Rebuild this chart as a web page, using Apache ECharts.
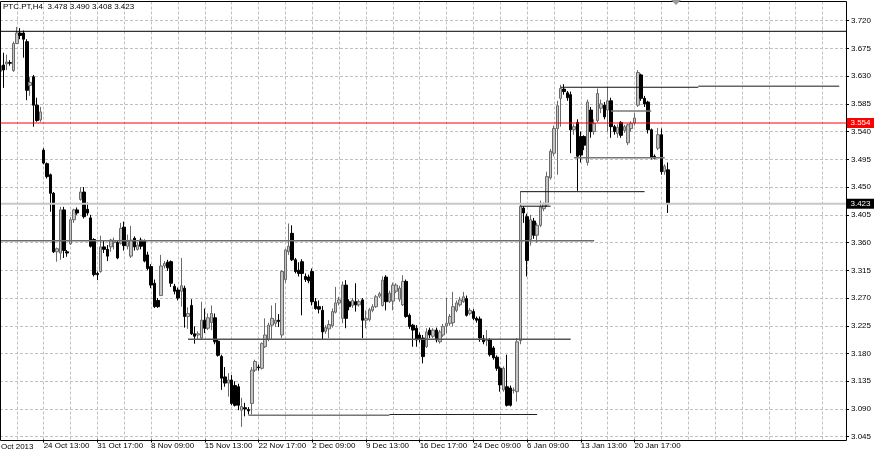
<!DOCTYPE html>
<html><head><meta charset="utf-8">
<script src="https://cdn.jsdelivr.net/npm/echarts@6/dist/echarts.min.js"></script>
<style>html,body{margin:0;padding:0;background:#fff;}#c{width:880px;height:450px;}</style>
</head><body><div id="c"></div>
<script>
// ---------- DATA ----------
const symbolName = 'PTC.PT,H4';
const opens = [
3.638,3.648,3.650,3.652,3.639,3.683,3.700,3.700,3.686,3.615,
3.629,3.583,3.559,3.510,3.488,3.470,3.440,3.345,3.343,3.413,
3.345,3.358,3.397,3.413,3.430,3.442,3.414,3.400,3.365,3.310,
3.313,3.353,3.349,3.353,3.360,3.360,3.359,3.385,3.354,3.338,
3.367,3.349,3.364,3.362,3.340,3.321,3.294,3.266,3.274,3.322,
3.328,3.329,3.289,3.283,3.281,3.286,3.240,3.258,3.212,3.210,
3.205,3.234,3.221,3.230,3.238,3.200,3.175,3.142,3.132,3.137,
3.128,3.126,3.088,3.092,3.089,3.099,3.153,3.158,3.156,3.191,
3.203,3.226,3.229,3.234,3.210,3.300,3.345,3.375,3.332,3.315,
3.329,3.305,3.304,3.313,3.264,3.256,3.250,3.216,3.220,3.225,
3.247,3.262,3.237,3.291,3.264,3.258,3.264,3.259,3.267,3.234,
3.235,3.250,3.256,3.273,3.258,3.304,3.264,3.265,3.281,3.268,
3.259,3.297,3.242,3.226,3.221,3.210,3.205,3.191,3.218,3.208,
3.218,3.199,3.210,3.225,3.229,3.230,3.250,3.259,3.264,3.269,
3.245,3.248,3.237,3.236,3.204,3.201,3.202,3.189,3.174,3.156,
3.121,3.126,3.124,3.120,3.118,3.201,3.416,3.402,3.365,3.395,
3.372,3.388,3.415,3.421,3.465,3.505,3.545,3.594,3.609,3.603,
3.600,3.543,3.555,3.532,3.532,3.490,3.575,3.540,3.558,3.578,
3.583,3.575,3.590,3.548,3.537,3.555,3.542,3.522,3.545,3.554,
3.583,3.632,3.594,3.588,3.543,3.500,3.513,3.535,3.475,3.478];
const highs = [
3.653,3.668,3.665,3.656,3.686,3.710,3.708,3.704,3.690,3.629,
3.632,3.595,3.580,3.513,3.490,3.472,3.442,3.352,3.418,3.418,
3.348,3.401,3.415,3.417,3.450,3.450,3.425,3.405,3.367,3.313,
3.371,3.363,3.356,3.366,3.368,3.363,3.392,3.394,3.373,3.387,
3.370,3.361,3.368,3.365,3.345,3.325,3.300,3.270,3.340,3.330,
3.332,3.331,3.293,3.287,3.335,3.290,3.255,3.268,3.224,3.216,
3.264,3.253,3.245,3.258,3.245,3.203,3.178,3.158,3.148,3.145,
3.135,3.131,3.108,3.100,3.093,3.158,3.170,3.162,3.198,3.237,
3.230,3.258,3.262,3.244,3.315,3.350,3.391,3.388,3.335,3.328,
3.333,3.310,3.308,3.318,3.270,3.266,3.257,3.226,3.234,3.253,
3.288,3.272,3.297,3.299,3.268,3.270,3.294,3.268,3.270,3.250,
3.254,3.260,3.275,3.280,3.305,3.307,3.282,3.295,3.294,3.290,
3.307,3.300,3.245,3.228,3.226,3.214,3.210,3.221,3.222,3.221,
3.222,3.218,3.228,3.270,3.244,3.280,3.266,3.272,3.280,3.274,
3.254,3.252,3.240,3.240,3.210,3.218,3.205,3.192,3.177,3.159,
3.159,3.178,3.128,3.125,3.205,3.443,3.419,3.407,3.405,3.400,
3.392,3.428,3.425,3.475,3.512,3.550,3.590,3.616,3.617,3.606,
3.605,3.552,3.560,3.540,3.534,3.592,3.580,3.560,3.610,3.592,
3.588,3.613,3.595,3.551,3.552,3.557,3.551,3.553,3.557,3.570,
3.640,3.634,3.598,3.590,3.545,3.503,3.546,3.545,3.487,3.490];
const lows = [
3.632,3.611,3.640,3.647,3.637,3.682,3.690,3.660,3.591,3.598,
3.548,3.556,3.556,3.487,3.464,3.410,3.343,3.329,3.332,3.335,
3.337,3.356,3.392,3.405,3.428,3.399,3.404,3.352,3.305,3.299,
3.311,3.343,3.330,3.345,3.349,3.333,3.357,3.347,3.349,3.335,
3.347,3.347,3.349,3.328,3.315,3.286,3.254,3.254,3.274,3.318,
3.314,3.288,3.276,3.266,3.256,3.222,3.220,3.210,3.196,3.204,
3.203,3.213,3.218,3.218,3.195,3.175,3.121,3.126,3.110,3.096,
3.094,3.088,3.061,3.078,3.081,3.081,3.150,3.152,3.154,3.189,
3.200,3.202,3.223,3.223,3.205,3.295,3.340,3.330,3.310,3.305,
3.242,3.296,3.294,3.258,3.251,3.245,3.202,3.212,3.205,3.222,
3.245,3.258,3.229,3.221,3.250,3.254,3.248,3.256,3.205,3.221,
3.232,3.247,3.254,3.270,3.256,3.250,3.262,3.250,3.278,3.264,
3.257,3.238,3.220,3.191,3.191,3.198,3.164,3.189,3.205,3.205,
3.198,3.196,3.207,3.213,3.225,3.224,3.247,3.256,3.262,3.240,
3.242,3.234,3.230,3.199,3.195,3.192,3.175,3.170,3.152,3.118,
3.118,3.094,3.094,3.115,3.102,3.195,3.392,3.305,3.355,3.366,
3.360,3.385,3.411,3.418,3.462,3.500,3.470,3.548,3.600,3.590,
3.505,3.535,3.444,3.490,3.510,3.485,3.530,3.535,3.555,3.570,
3.560,3.540,3.530,3.535,3.530,3.530,3.538,3.518,3.540,3.550,
3.580,3.590,3.580,3.537,3.495,3.495,3.510,3.470,3.470,3.408];
const closes = [
3.647,3.640,3.653,3.651,3.683,3.700,3.696,3.690,3.607,3.620,
3.583,3.558,3.572,3.489,3.467,3.440,3.345,3.350,3.413,3.347,
3.343,3.397,3.413,3.408,3.442,3.402,3.408,3.354,3.308,3.308,
3.353,3.349,3.338,3.364,3.363,3.335,3.383,3.355,3.362,3.364,
3.353,3.356,3.354,3.330,3.318,3.291,3.256,3.256,3.322,3.326,
3.319,3.294,3.281,3.270,3.290,3.240,3.245,3.212,3.208,3.212,
3.234,3.221,3.238,3.245,3.199,3.177,3.140,3.132,3.137,3.099,
3.096,3.096,3.094,3.090,3.087,3.153,3.167,3.157,3.196,3.210,
3.226,3.237,3.234,3.232,3.313,3.348,3.354,3.332,3.313,3.310,
3.310,3.300,3.298,3.264,3.253,3.252,3.215,3.222,3.227,3.248,
3.262,3.267,3.291,3.237,3.256,3.266,3.259,3.264,3.234,3.237,
3.251,3.256,3.272,3.277,3.299,3.264,3.278,3.291,3.291,3.286,
3.297,3.240,3.224,3.218,3.202,3.203,3.175,3.215,3.210,3.218,
3.202,3.215,3.224,3.229,3.240,3.256,3.262,3.267,3.272,3.242,
3.250,3.237,3.234,3.205,3.199,3.201,3.178,3.173,3.156,3.129,
3.156,3.096,3.096,3.121,3.199,3.419,3.408,3.331,3.397,3.372,
3.388,3.418,3.422,3.467,3.508,3.545,3.582,3.610,3.605,3.595,
3.543,3.548,3.500,3.502,3.518,3.588,3.540,3.553,3.602,3.585,
3.564,3.590,3.548,3.540,3.547,3.534,3.548,3.551,3.553,3.562,
3.636,3.594,3.585,3.543,3.499,3.497,3.535,3.475,3.484,3.423];
// bar slots on the time axis (candles + empty chart-shift space)
const totalSlots = 253;
// time-axis labels: [bar index, text]
const timeLabelBars = [-3, 13, 29, 45, 61, 77, 93, 109, 125, 141, 157, 173, 189];
const timeLabelTexts = ['17 Oct 2013','24 Oct 13:00','31 Oct 17:00','8 Nov 09:00','15 Nov 13:00','22 Nov 17:00',
  '2 Dec 09:00','9 Dec 13:00','16 Dec 17:00','24 Dec 09:00','6 Jan 09:00','13 Jan 13:00','20 Jan 17:00'];
// price axis ticks
const priceMin = 3.045, priceMax = 3.720, priceStep = 0.045;
// drawn horizontal levels: price, from bar, to bar
const levelPrices = [3.7028, 3.554, 3.423, 3.363, 3.203, 3.080, 3.081, 3.612, 3.6137, 3.5735, 3.4977, 3.4426, 3.419];
const levelFrom   = [0, 0, 0, 0, 56, 74, 116, 167, 208, 182, 171, 155, 155];
const levelTo     = [252, 252, 252, 177, 170, 116, 160, 208, 250, 194, 198, 192, 164];
// price tags on the axis
const tagPrices = [3.554, 3.423];

// ---------- STYLE ----------
const FONT = 'Liberation Sans';
const levelStyles = [
  {color:'#000000', width:1}, {color:'#ff0000', width:1}, {color:'#c8c8c8', width:2},
  {color:'#6a6a6a', width:1.5}, {color:'#555555', width:1.5}, {color:'#777777', width:1.5},
  {color:'#222222', width:1}, {color:'#111111', width:1}, {color:'#666666', width:1.5},
  {color:'#777777', width:1.5}, {color:'#777777', width:1.5}, {color:'#111111', width:1},
  {color:'#111111', width:1}
];
const tagColors = ['#ff0000', '#000000'];

const cats = Array.from({length: totalSlots}, (_, i) => String(i));
const candleData = cats.map((c, i) => i < opens.length ? [opens[i], closes[i], lows[i], highs[i]] : '-');
const labelMap = new Map();
timeLabelBars.forEach((b, k) => { if (b >= 0) labelMap.set(b, timeLabelTexts[k]); });
const last = opens.length - 1;
const header = symbolName + '  ' + [opens[last], highs[last], lows[last], closes[last]].map(v => v.toFixed(3)).join(' ');

const levelSeries = levelPrices.map((p, k) => ({
  type: 'line', xAxisIndex: 0, yAxisIndex: 0, silent: true, symbol: 'none', z: 3,
  data: [[String(levelFrom[k]), p], [String(levelTo[k]), p]],
  lineStyle: levelStyles[k]
}));

const chart = echarts.init(document.getElementById('c'), null, {renderer: 'canvas'});
chart.setOption({
  animation: false,
  backgroundColor: '#ffffff',
  title: {text: header, left: 3, top: 2.5, padding: 0,
    textStyle: {fontSize: 8, fontWeight: 'normal', color: '#000', fontFamily: FONT}},
  grid: [
    {left: 0, top: 20.7, width: 846, height: 416},
    {left: 0, top: 1.5, width: 846, height: 439}
  ],
  xAxis: [
    {type: 'category', gridIndex: 0, data: cats, boundaryGap: false, show: false},
    {type: 'category', gridIndex: 1, data: cats, boundaryGap: false, position: 'bottom',
      axisLine: {show: false},
      axisTick: {show: true, inside: false, length: 3, interval: (i) => labelMap.has(i), lineStyle: {color: '#000'}},
      axisLabel: {interval: (i) => labelMap.has(i), formatter: (v, i) => labelMap.get(i) || '',
        align: 'left', margin: 2.5, fontSize: 8, color: '#000', fontFamily: FONT},
      splitLine: {show: true, interval: (i) => (i - 5) % 8 === 0, lineStyle: {color: '#c0c0c0', type: [3, 2], width: 1}}
    }
  ],
  yAxis: [
    {type: 'value', gridIndex: 0, position: 'right', min: priceMin, max: priceMax, interval: priceStep,
      axisLine: {show: false},
      axisTick: {show: true, length: 3, lineStyle: {color: '#000'}},
      axisLabel: {formatter: v => v.toFixed(3), fontSize: 8, color: '#000', margin: 5, fontFamily: FONT},
      splitLine: {show: true, lineStyle: {color: '#c0c0c0', type: [3, 2], width: 1}}},
    {type: 'value', gridIndex: 1, min: 0, max: 1, show: false}
  ],
  series: [
    {type: 'candlestick', xAxisIndex: 0, yAxisIndex: 0, data: candleData, barWidth: 3, z: 2,
      itemStyle: {color: '#c4c4c4', color0: '#000000', borderColor: '#6a6a6a', borderColor0: '#000000', borderWidth: 1}}
  ].concat(levelSeries)
});

// axis price tags, first date label and frame
const step = chart.convertToPixel({xAxisIndex: 1}, '1') - chart.convertToPixel({xAxisIndex: 1}, '0');
const x0 = chart.convertToPixel({xAxisIndex: 1}, '0');
const graphics = [];
tagPrices.forEach((p, k) => {
  const py = chart.convertToPixel({yAxisIndex: 0}, p);
  graphics.push({type: 'rect', shape: {x: 847, y: py - 5, width: 27, height: 10}, style: {fill: tagColors[k]}, z: 100});
  graphics.push({type: 'text', x: 860.5, y: py, z: 101,
    style: {text: p.toFixed(3), fill: '#fff', font: '8px ' + FONT, textAlign: 'center', textVerticalAlign: 'middle', align: 'center', verticalAlign: 'middle'}});
});
timeLabelBars.forEach((b, k) => {
  if (b < 0) {
    graphics.push({type: 'text', x: x0 + b * step, y: 443, z: 101,
      style: {text: timeLabelTexts[k], fill: '#000', font: '8px ' + FONT, textAlign: 'left', textVerticalAlign: 'top', align: 'left', verticalAlign: 'top'}});
  }
});
graphics.push({type: 'rect', shape: {x: 0.5, y: 1.5, width: 846, height: 439}, style: {fill: null, stroke: '#000', lineWidth: 1}, z: 99, silent: true});
graphics.push({type: 'polygon', shape: {points: [[671, 0], [681, 0], [676, 5]]}, style: {fill: '#9a9a9a'}, z: 99});
chart.setOption({graphic: graphics});
</script>
</body></html>
